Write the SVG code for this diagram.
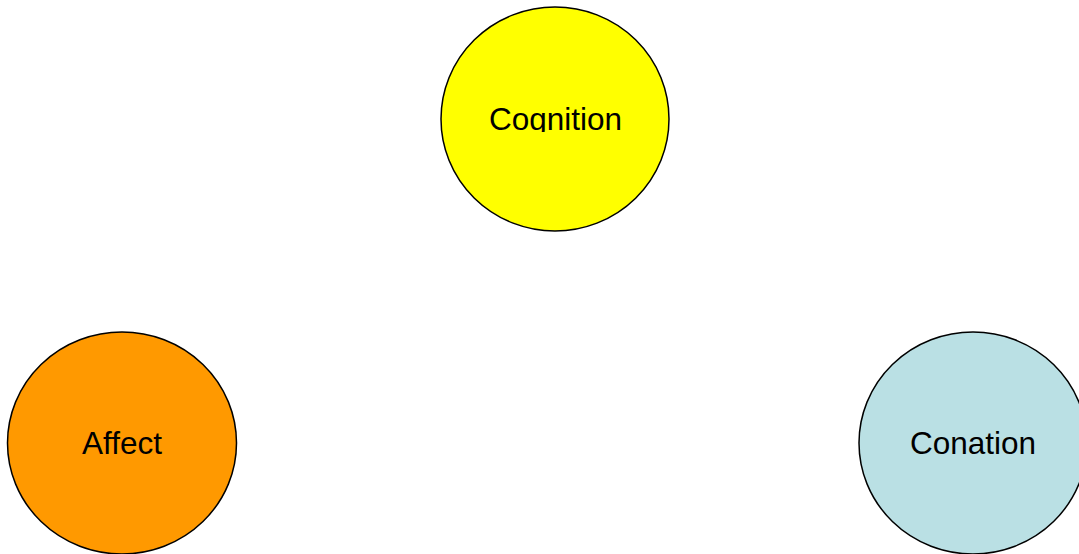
<svg xmlns="http://www.w3.org/2000/svg" width="1079" height="554" viewBox="0 0 1079 554">
<style>
.n{stroke:#000;stroke-width:1.5}
.t{font-family:"Liberation Sans",Arial,sans-serif;font-size:31.5px;fill:#000;text-anchor:middle}
</style>
<defs>
<clipPath id="cl"><rect x="440" y="0" width="230" height="132"/></clipPath>
</defs>
<rect width="1079" height="554" fill="#fff"/>
<g id="connectors"></g>
<g id="cognition">
<ellipse class="n" cx="555" cy="119" rx="114" ry="112" fill="#FFFF00"/>
<text class="t" x="555.5" y="130" clip-path="url(#cl)">Cognition</text>
</g>
<g id="affect">
<ellipse class="n" cx="122" cy="443" rx="114.5" ry="111" fill="#FF9900"/>
<text class="t" x="122" y="454">Affect</text>
</g>
<g id="conation">
<ellipse class="n" cx="973" cy="443" rx="114" ry="111" fill="#BAE0E4"/>
<text class="t" x="973" y="454">Conation</text>
</g>
</svg>
